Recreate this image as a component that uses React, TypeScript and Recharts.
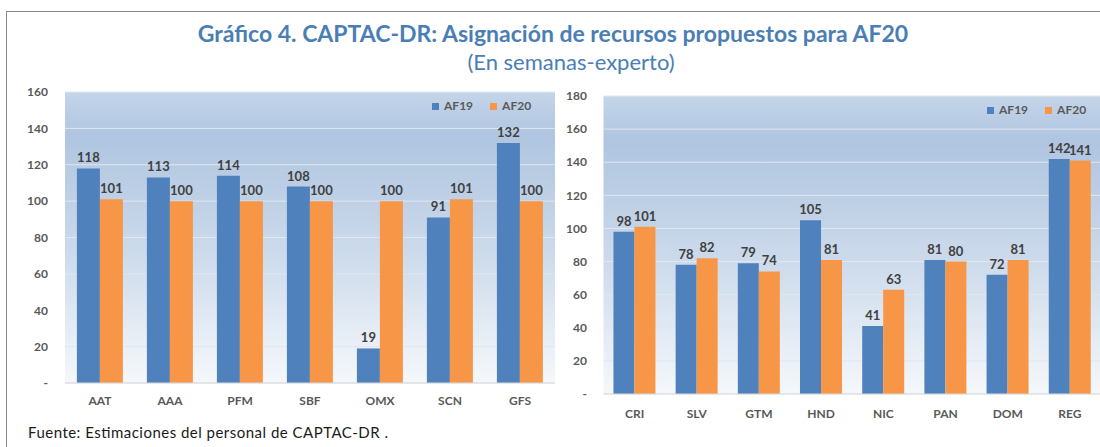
import React from 'react'
import { BarChart, Bar, XAxis, YAxis, CartesianGrid, Legend, LabelList } from 'recharts'

const leftCategories = ['AAT', 'AAA', 'PFM', 'SBF', 'OMX', 'SCN', 'GFS']
const leftAF19 = [118, 113, 114, 108, 19, 91, 132]
const leftAF20 = [101, 100, 100, 100, 100, 101, 100]
const leftTicks = [0, 20, 40, 60, 80, 100, 120, 140, 160]

const rightCategories = ['CRI', 'SLV', 'GTM', 'HND', 'NIC', 'PAN', 'DOM', 'REG']
const rightAF19 = [98, 78, 79, 105, 41, 81, 72, 142]
const rightAF20 = [101, 82, 74, 81, 63, 80, 81, 141]
const rightTicks = [0, 20, 40, 60, 80, 100, 120, 140, 160, 180]

const seriesNames = ['AF19', 'AF20']

const BLUE = '#4f81bd'
const ORANGE = '#f79646'
const FONT = "Lato, 'Open Sans', sans-serif"
const AXIS_TEXT = '#595959'

const leftData = leftCategories.map((c, i) => ({ cat: c, af19: leftAF19[i], af20: leftAF20[i] }))
const rightData = rightCategories.map((c, i) => ({ cat: c, af19: rightAF19[i], af20: rightAF20[i] }))

const tickFmt = (v: number) => (v === 0 ? '-' : String(v))

const LegendBox = ({ payload }: any) => (
  <div style={{ display: 'flex', alignItems: 'center', fontFamily: FONT, fontSize: 12, fontWeight: 700, color: AXIS_TEXT, lineHeight: '14px' }}>
    {(payload || []).map((p: any, i: number) => (
      <div key={i} style={{ display: 'flex', alignItems: 'center', marginRight: 17 }}>
        <span style={{ width: 7, height: 7, background: p.color, display: 'inline-block', marginRight: 5 }} />
        <span>{p.value}</span>
      </div>
    ))}
  </div>
)

interface PanelProps {
  data: any[]
  ticks: number[]
  max: number
  gradId: string
  width: number
  height: number
  margin: { top: number; right: number; bottom: number; left: number }
  yWidth: number
  yTickMargin: number
  xTickMargin: number
  barGap: string
  legendPos: { top: number; left: number }
}

function Panel({ data, ticks, max, gradId, width, height, margin, yWidth, yTickMargin, xTickMargin, barGap, legendPos }: PanelProps) {
  const tickStyle = { fontSize: 12, fontWeight: 700, fill: AXIS_TEXT, fontFamily: FONT }
  return (
    <BarChart width={width} height={height} data={data} margin={margin} barCategoryGap={barGap} barGap={0}>
      <defs>
        <linearGradient id={gradId} x1="0" y1="0" x2="0" y2="1">
          <stop offset="0%" stopColor="#c5d5e9" />
          <stop offset="15%" stopColor="#afc5e0" />
          <stop offset="55%" stopColor="#ccdaeb" />
          <stop offset="100%" stopColor="#f5f8fb" />
        </linearGradient>
      </defs>
      <CartesianGrid vertical={false} fill={`url(#${gradId})`} stroke="#e1e7ee" />
      <XAxis
        dataKey="cat"
        height={30}
        tickLine={false}
        tickSize={0}
        tickMargin={xTickMargin}
        axisLine={{ stroke: '#d9d9d9' }}
        tick={tickStyle}
        interval={0}
      />
      <YAxis
        width={yWidth}
        domain={[0, max]}
        ticks={ticks}
        tickFormatter={tickFmt}
        axisLine={false}
        tickLine={false}
        tickSize={0}
        tickMargin={yTickMargin}
        tick={tickStyle}
        interval={0}
      />
      <Legend
        verticalAlign="middle"
        layout="horizontal"
        content={<LegendBox />}
        wrapperStyle={{ top: legendPos.top, left: legendPos.left, width: 'auto' }}
      />
      <Bar dataKey="af19" name={seriesNames[0]} fill={BLUE} isAnimationActive={false}>
        <LabelList dataKey="af19" position="top" offset={6} fill="#404040" fontSize={13} fontWeight={700} fontFamily={FONT} />
      </Bar>
      <Bar dataKey="af20" name={seriesNames[1]} fill={ORANGE} isAnimationActive={false}>
        <LabelList dataKey="af20" position="top" offset={6} fill="#404040" fontSize={13} fontWeight={700} fontFamily={FONT} />
      </Bar>
    </BarChart>
  )
}

export default function App() {
  return (
    <div style={{ position: 'absolute', left: 0, top: 0, width: 1100, height: 447, overflow: 'hidden', background: '#fff', fontFamily: FONT }}>
      <div style={{ position: 'absolute', left: 6, top: 11, width: 1200, height: 600, border: '1.5px solid #8a8a8a' }} />
      <svg style={{ position: 'absolute', left: 0, top: 0 }} width={1100} height={447}>
        <text x={553} y={42} textAnchor="middle" fill="#4a7eb5" fontSize={23} fontWeight={700} fontFamily={FONT}>
          Gráfico 4. CAPTAC-DR: Asignación de recursos propuestos para AF20
        </text>
        <text x={571} y={70} textAnchor="middle" fill="#4a7eb5" fontSize={22} fontFamily={FONT}>
          (En semanas-experto)
        </text>
        <text x={28} y={438} fill="#1a1a1a" fontSize={15} fontFamily={FONT} textLength={360} lengthAdjust="spacing">
          Fuente: Estimaciones del personal de CAPTAC-DR .
        </text>
      </svg>
      <div style={{ position: 'absolute', left: 0, top: 0 }}>
        <Panel
          data={leftData}
          ticks={leftTicks}
          max={160}
          gradId="bgLeft"
          width={560}
          height={430}
          margin={{ top: 92, right: 5, bottom: 17, left: 0 }}
          yWidth={65}
          yTickMargin={17}
          xTickMargin={13}
          barGap="17%"
          legendPos={{ top: 99, left: 432 }}
        />
      </div>
      <div style={{ position: 'absolute', left: 550, top: 0 }}>
        <Panel
          data={rightData}
          ticks={rightTicks}
          max={180}
          gradId="bgRight"
          width={552}
          height={440}
          margin={{ top: 96, right: 1, bottom: 16, left: 0 }}
          yWidth={53.5}
          yTickMargin={16.5}
          xTickMargin={15}
          barGap="16%"
          legendPos={{ top: 103, left: 437 }}
        />
      </div>
    </div>
  )
}
